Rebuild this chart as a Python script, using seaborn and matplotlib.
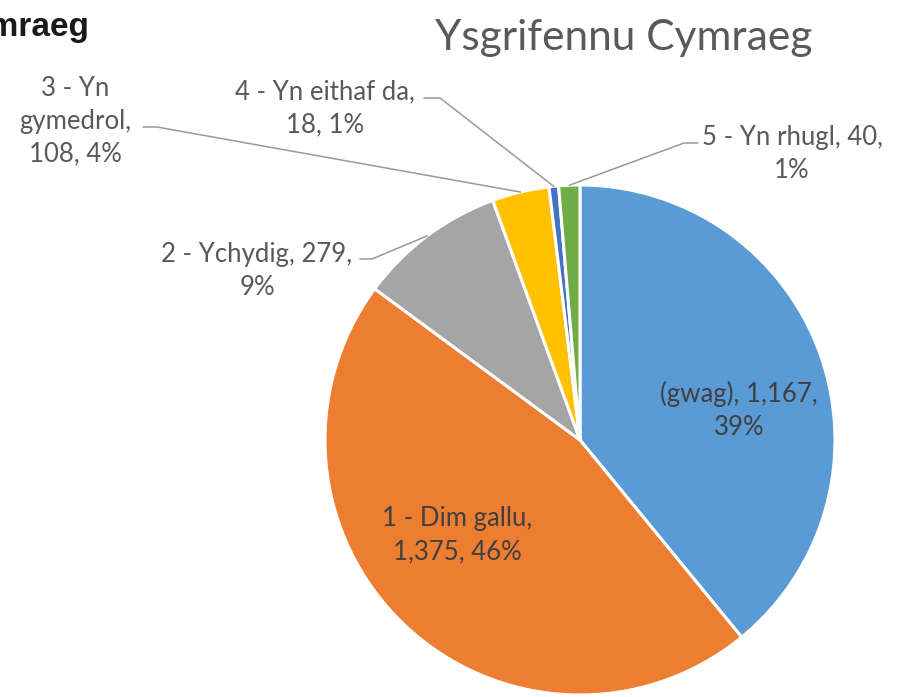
import numpy as np
import seaborn as sns
from matplotlib import pyplot as plt

# data
categories = ["(gwag)", "1 - Dim gallu", "2 - Ychydig", "3 - Yn gymedrol",
              "4 - Yn eithaf da", "5 - Yn rhugl"]
counts = [1167, 1375, 279, 108, 18, 40]
colours = ["#5B9BD5", "#ED7D31", "#A5A5A5", "#FFC000", "#4472C4", "#70AD47"]

# label text with line breaks as in the chart
label_text = ["(gwag), 1,167,\n39%", "1 - Dim gallu,\n1,375, 46%",
              "2 - Ychydig, 279,\n9%", "3 - Yn\ngymedrol,\n108, 4%",
              "4 - Yn eithaf da,\n18, 1%", "5 - Yn rhugl, 40,\n1%"]

sns.set_theme(style="white")
plt.rcParams['font.family'] = ['Lato', 'DejaVu Sans']

W, H = 900, 697
fig = plt.figure(figsize=(9, 6.97), dpi=100)
ax = fig.add_axes([0, 0, 1, 1])

cx, cy, R = 580, H - 440, 255
wedges, _ = ax.pie(counts, colors=colours, startangle=90, counterclock=False,
                   center=(cx, cy), radius=R,
                   wedgeprops=dict(edgecolor="white", linewidth=2.2))
ax.set_xlim(0, W)
ax.set_ylim(0, H)
ax.set_aspect("equal")
ax.axis("off")

# label placement (pixel positions of label centres, from top-left)
label_pos = [(739, 410), (457, 535), (257, 271), (75, 121), (325, 108), (792, 154)]
inside = [True, True, False, False, False, False]
# where leader line leaves the label (pixel), then short horizontal
leader_start = [None, None, (360, 259), (143, 127), (424, 98), (698, 143)]
leader_knee = [None, None, (372, 259), (157, 127), (440, 98), (684, 143)]

for i, w in enumerate(wedges):
    x, y = label_pos[i]
    col = "#404040" if inside[i] else "#595959"
    ax.text(x, H - y, label_text[i], ha="center", va="center", fontsize=18.5,
            color=col, linespacing=1.4)
    if leader_start[i] is not None:
        mid = np.deg2rad((w.theta1 + w.theta2) / 2)
        ex, ey = cx + R * np.cos(mid), cy + R * np.sin(mid)
        sx, sy = leader_start[i]
        kx, ky = leader_knee[i]
        ax.plot([sx, kx, ex], [H - sy, H - ky, ey], color="#999999", lw=1.1)

ax.text(624, H - 38, "Ysgrifennu Cymraeg", ha="center", va="center",
        fontsize=30.5, color="#595959")
ax.text(89, H - 36, "Cymraeg", ha="right", va="baseline", fontsize=24,
        fontweight="bold", color="#1a1a1a", family=["Liberation Sans"])

fig.savefig("out.png", dpi=100, facecolor="white")
